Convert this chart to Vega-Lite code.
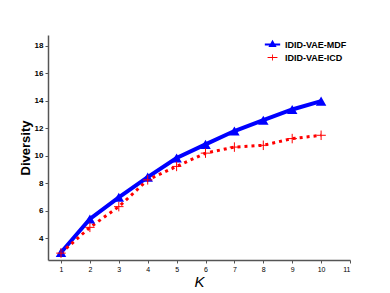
{
  "$schema": "https://vega.github.io/schema/vega-lite/v6.json",
  "width": 302,
  "height": 225,
  "autosize": "none",
  "padding": {"left": 48, "top": 35, "right": 40, "bottom": 33},
  "background": "white",
  "config": {
    "view": {"stroke": null},
    "font": "Liberation Sans"
  },
  "data": {
    "values": [
      {"K": 1, "Diversity": 2.95, "Method": "IDID-VAE-MDF"},
      {"K": 2, "Diversity": 5.39, "Method": "IDID-VAE-MDF"},
      {"K": 3, "Diversity": 6.97, "Method": "IDID-VAE-MDF"},
      {"K": 4, "Diversity": 8.44, "Method": "IDID-VAE-MDF"},
      {"K": 5, "Diversity": 9.83, "Method": "IDID-VAE-MDF"},
      {"K": 6, "Diversity": 10.83, "Method": "IDID-VAE-MDF"},
      {"K": 7, "Diversity": 11.8, "Method": "IDID-VAE-MDF"},
      {"K": 8, "Diversity": 12.59, "Method": "IDID-VAE-MDF"},
      {"K": 9, "Diversity": 13.37, "Method": "IDID-VAE-MDF"},
      {"K": 10, "Diversity": 13.98, "Method": "IDID-VAE-MDF"},
      {"K": 1, "Diversity": 2.9, "Method": "IDID-VAE-ICD"},
      {"K": 2, "Diversity": 4.78, "Method": "IDID-VAE-ICD"},
      {"K": 3, "Diversity": 6.29, "Method": "IDID-VAE-ICD"},
      {"K": 4, "Diversity": 8.24, "Method": "IDID-VAE-ICD"},
      {"K": 5, "Diversity": 9.22, "Method": "IDID-VAE-ICD"},
      {"K": 6, "Diversity": 10.19, "Method": "IDID-VAE-ICD"},
      {"K": 7, "Diversity": 10.63, "Method": "IDID-VAE-ICD"},
      {"K": 8, "Diversity": 10.76, "Method": "IDID-VAE-ICD"},
      {"K": 9, "Diversity": 11.25, "Method": "IDID-VAE-ICD"},
      {"K": 10, "Diversity": 11.49, "Method": "IDID-VAE-ICD"}
    ]
  },
  "encoding": {
    "x": {
      "field": "K", "type": "quantitative",
      "scale": {"domain": [0.55, 11], "nice": false, "zero": false},
      "axis": {
        "values": [1,2,3,4,5,6,7,8,9,10,11],
        "title": "K", "titleFontStyle": "italic", "titleFontWeight": "normal", "titleFontSize": 15, "titlePadding": 2,
        "grid": false, "domainColor": "#555", "domainWidth": 1.5, "tickColor": "#555", "tickSize": 3,
        "labelFontSize": 7, "labelColor": "#000", "labelPadding": 2
      }
    },
    "y": {
      "field": "Diversity", "type": "quantitative",
      "scale": {"domain": [2.4, 18.8], "nice": false, "zero": false},
      "axis": {
        "values": [4,6,8,10,12,14,16,18],
        "title": "Diversity", "titleFontWeight": "bold", "titleFontSize": 13, "titlePadding": 2,
        "grid": false, "domainColor": "#555", "domainWidth": 1.5, "tickColor": "#555", "tickSize": 3,
        "labelFontSize": 8, "labelFontWeight": "bold", "labelColor": "#000", "labelPadding": 2
      }
    }
  },
  "layer": [
    {
      "mark": {"type": "line", "strokeWidth": 4},
      "transform": [{"filter": "datum.Method === 'IDID-VAE-MDF'"}],
      "encoding": {"color": {"value": "#0000ff"}}
    },
    {
      "mark": {"type": "line", "strokeWidth": 3, "strokeDash": [3, 4]},
      "transform": [{"filter": "datum.Method === 'IDID-VAE-ICD'"}],
      "encoding": {"color": {"value": "#ff0000"}}
    },
    {
      "mark": {"type": "point", "filled": true, "opacity": 1, "shape": "triangle-up", "size": 110},
      "transform": [{"filter": "datum.Method === 'IDID-VAE-MDF'"}],
      "encoding": {"color": {"value": "#0000ff"}}
    },
    {
      "mark": {"type": "point", "filled": false, "opacity": 1, "shape": "M-1,0L1,0M0,-1L0,1", "size": 90, "strokeWidth": 1},
      "transform": [{"filter": "datum.Method === 'IDID-VAE-ICD'"}],
      "encoding": {"color": {"value": "#ff0000"}}
    },
    {
      "mark": {"type": "point", "filled": true, "opacity": 0},
      "encoding": {
        "color": {
          "field": "Method", "type": "nominal",
          "scale": {"domain": ["IDID-VAE-MDF", "IDID-VAE-ICD"], "range": ["#0000ff", "#ff0000"]},
          "legend": {
            "title": null, "orient": "none", "legendX": 219, "legendY": 4,
            "labelFontSize": 9, "labelFontWeight": "bold", "labelColor": "#000",
            "symbolSize": 120, "rowPadding": 2, "labelOffset": 7,
            "symbolOpacity": 1, "symbolStrokeWidth": 0
          }
        },
        "shape": {
          "field": "Method", "type": "nominal",
          "scale": {"domain": ["IDID-VAE-MDF", "IDID-VAE-ICD"], "range": ["M-1.4,-0.16L1.4,-0.16L1.4,0.16L-1.4,0.16Z M0,-0.85L0.75,0.45L-0.75,0.45Z", "M-0.9,-0.1L0.9,-0.1L0.9,0.1L-0.9,0.1Z M-0.08,-0.55L0.08,-0.55L0.08,0.55L-0.08,0.55Z"]},
          "legend": {
            "title": null, "orient": "none", "legendX": 219, "legendY": 4,
            "labelFontSize": 9, "labelFontWeight": "bold", "labelColor": "#000",
            "symbolSize": 120, "rowPadding": 2, "labelOffset": 7,
            "symbolOpacity": 1, "symbolStrokeWidth": 0
          }
        }
      }
    }
  ]
}
